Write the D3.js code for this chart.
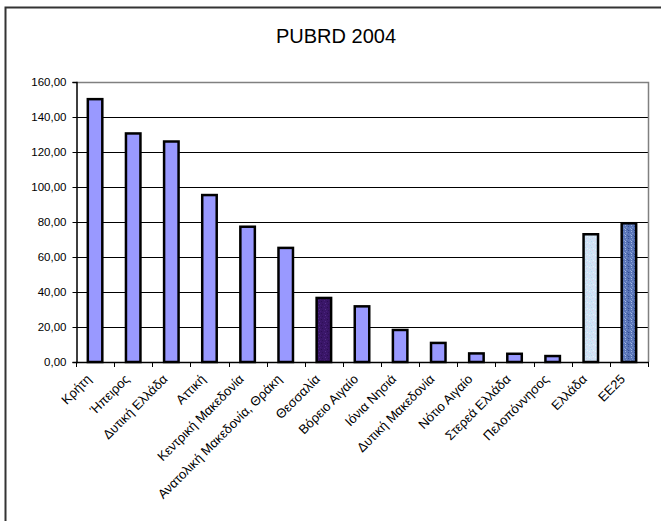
<!DOCTYPE html>
<html lang="el">
<head>
<meta charset="UTF-8">
<title>PUBRD 2004</title>
<script src="https://d3js.org/d3.v7.min.js"></script>
<style>
  body { margin: 0; background: #fff; }
  svg text { font-family: "Liberation Sans", Arial, sans-serif; fill: #000; }
</style>
</head>
<body>
<div id="chart"></div>
<script>
// chart values
var regions = ["Κρήτη", "Ήπειρος", "Δυτική Ελλάδα", "Αττική", "Κεντρική Μακεδονία",
    "Ανατολική Μακεδονία, Θράκη", "Θεσσαλία", "Βόρειο Αιγαίο", "Ιόνια Νησιά",
    "Δυτική Μακεδονία", "Νότιο Αιγαίο", "Στερεά Ελλάδα", "Πελοπόννησος", "Ελλάδα", "EE25"];
var pubrd = [150.2, 130.6, 126.0, 95.4, 77.3, 65.2, 36.6, 31.8, 18.3, 10.9, 4.9, 4.7, 3.4, 73.0, 79.3];
var yTicks = [0, 20, 40, 60, 80, 100, 120, 140, 160];
var fills = { "Θεσσαλία": "url(#texDark)", "Ελλάδα": "url(#texLight)", "EE25": "url(#texBlue)" };

var width = 661, height = 521;
var plot = { left: 76, right: 648, top: 82, bottom: 362 };

var svg = d3.select("#chart").append("svg")
    .attr("width", width)
    .attr("height", height);

// textures for the three highlighted bars
var defs = svg.append("defs");
function texture(id, base, specks) {
    var p = defs.append("pattern")
        .attr("id", id)
        .attr("patternUnits", "userSpaceOnUse")
        .attr("width", 6).attr("height", 6);
    p.append("rect").attr("width", 6).attr("height", 6).attr("fill", base);
    specks.forEach(function (s) {
        p.append("rect").attr("x", s[0]).attr("y", s[1])
            .attr("width", 1).attr("height", 1).attr("fill", s[2]);
    });
}
texture("texDark", "#3a1668", [[0, 0, "#4b2580"], [3, 1, "#2a0c52"], [1, 3, "#52308a"], [4, 4, "#2e1058"], [2, 5, "#461f78"], [5, 2, "#3e1a70"]]);
texture("texLight", "#cfe3f5", [[0, 0, "#e4d4ee"], [3, 1, "#b8d6f0"], [1, 3, "#e8eef8"], [4, 4, "#d8cdea"], [2, 5, "#bcd9f2"], [5, 2, "#e6f0fa"]]);
texture("texBlue", "#5a76b8", [[0, 0, "#8aa2d6"], [3, 1, "#3d5aa0"], [1, 3, "#9db2de"], [4, 4, "#34509a"], [2, 5, "#7e96cc"], [5, 2, "#4866ab"], [1, 1, "#a8bce4"], [4, 2, "#2f4a90"]]);

// outer frame (runs off the right and bottom of the picture)
svg.append("path")
    .attr("d", "M5.5," + (height + 5) + "V7.5H" + (width + 5))
    .attr("fill", "none")
    .attr("stroke", "#333")
    .attr("stroke-width", 2);

svg.append("text")
    .attr("x", 336)
    .attr("y", 43)
    .attr("text-anchor", "middle")
    .style("font-size", "20px")
    .text("PUBRD 2004");

var x = d3.scaleBand()
    .domain(regions)
    .range([plot.left, plot.right])
    .paddingInner(0.62)
    .paddingOuter(0.31);

var y = d3.scaleLinear()
    .domain([0, 160])
    .range([plot.bottom, plot.top]);

var gr = d3.formatLocale({ decimal: ",", thousands: ".", grouping: [3], currency: ["", "€"] });
var fmt = gr.format(".2f");

// gridlines
svg.append("g")
    .selectAll("line")
    .data(yTicks.filter(function (d) { return d > 0 && d < 160; }))
    .enter().append("line")
    .attr("x1", plot.left).attr("x2", plot.right)
    .attr("y1", function (d) { return Math.round(y(d)) + 0.5; })
    .attr("y2", function (d) { return Math.round(y(d)) + 0.5; })
    .attr("stroke", "#000")
    .attr("stroke-width", 1);

// plot area border top/right
svg.append("path")
    .attr("d", "M" + plot.left + "," + (plot.top + 0.5) + "H" + (plot.right + 0.5) + "V" + plot.bottom)
    .attr("fill", "none")
    .attr("stroke", "#808080")
    .attr("stroke-width", 1.5);

// y axis
var yAxis = svg.append("g")
    .attr("transform", "translate(" + (plot.left + 0.5) + ",0)")
    .call(d3.axisLeft(y).tickValues(yTicks).tickFormat(fmt).tickSize(4).tickPadding(6));
yAxis.selectAll("text").style("font-size", "11.5px").style("font-family", "'Liberation Sans', Arial, sans-serif");
yAxis.selectAll("line").attr("stroke", "#000");
yAxis.select(".domain").attr("stroke", "#000").attr("stroke-width", 1.5);

// x axis: ticks at category boundaries
var step = x.step();
var bounds = d3.range(regions.length + 1);
var xAxis = svg.append("g");
xAxis.append("line")
    .attr("x1", plot.left).attr("x2", plot.right + 1)
    .attr("y1", plot.bottom + 0.5).attr("y2", plot.bottom + 0.5)
    .attr("stroke", "#000").attr("stroke-width", 1.5);
xAxis.selectAll(".tk")
    .data(bounds)
    .enter().append("line")
    .attr("class", "tk")
    .attr("x1", function (i) { return Math.round(plot.left + i * step) + 0.5; })
    .attr("x2", function (i) { return Math.round(plot.left + i * step) + 0.5; })
    .attr("y1", plot.bottom).attr("y2", plot.bottom + 5)
    .attr("stroke", "#000");

xAxis.selectAll(".lbl")
    .data(regions)
    .enter().append("text")
    .attr("class", "lbl")
    .attr("text-anchor", "end")
    .style("font-size", "13px")
    .attr("transform", function (d) {
        return "translate(" + (x(d) + x.bandwidth() / 2 - 3) + "," + (plot.bottom + 18) + ") rotate(-45)";
    })
    .text(function (d) { return d; });

// bars
svg.append("g")
    .selectAll("rect")
    .data(regions)
    .enter().append("rect")
    .attr("x", function (d) { return x(d); })
    .attr("width", x.bandwidth())
    .attr("y", function (d, i) { return y(pubrd[i]); })
    .attr("height", function (d, i) { return y(0) - y(pubrd[i]); })
    .attr("fill", function (d) { return fills[d] || "#9999ff"; })
    .attr("stroke", "#000")
    .attr("stroke-width", 2.5);
</script>
</body>
</html>
